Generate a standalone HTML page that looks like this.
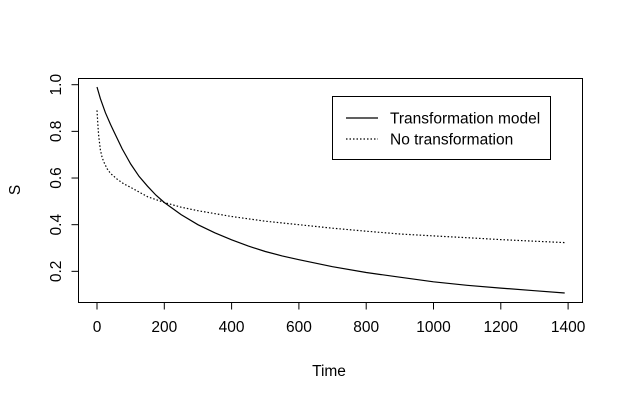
<!DOCTYPE html>
<html><head><meta charset="utf-8"><style>
body{margin:0;background:#fff}
svg text{font-family:"Liberation Sans",Arial,sans-serif;font-size:15.5px;fill:#000}
</style></head><body>
<svg id="chart" width="623" height="400"></svg>
<script>
const timesA=[0,10,25,40,50,75,100,125,150,175,200,250,300,350,400,450,500,550,600,700,800,900,1000,1100,1200,1300,1390];
const survA=[0.99,0.94,0.88,0.83,0.8,0.725,0.66,0.607,0.565,0.527,0.495,0.443,0.4,0.365,0.335,0.308,0.285,0.266,0.25,0.22,0.195,0.175,0.155,0.14,0.128,0.117,0.107];
const timesB=[0,3,5,10,15,20,30,40,60,80,100,150,200,250,300,400,500,600,700,800,900,1000,1100,1200,1300,1390];
const survB=[0.89,0.82,0.78,0.72,0.69,0.67,0.64,0.62,0.595,0.575,0.56,0.52,0.495,0.475,0.46,0.435,0.415,0.4,0.385,0.372,0.36,0.352,0.344,0.336,0.329,0.323];
const xTicks=[0,200,400,600,800,1000,1200,1400];
const yTicks=[0.2,0.4,0.6,0.8,1.0];
const NS="http://www.w3.org/2000/svg";
const svg=document.getElementById('chart');
const X=t=>97+t*(67.3/200);
const Y=v=>84.7+(1-v)*233.3;
function mk(tag,attrs,parent){const e=document.createElementNS(NS,tag);for(const k in attrs)e.setAttribute(k,attrs[k]);(parent||svg).appendChild(e);return e;}
let e=mk('rect',{x:78.5,y:78.5,width:504,height:224,fill:'none',stroke:'#000'});


e=mk('line',{x1:X(0),x2:X(1400),y1:302.5,y2:302.5,stroke:'#000'});


xTicks.forEach(t=>{
 const l=mk('line',{x1:X(t),x2:X(t),y1:302.5,y2:309.5,stroke:'#000'});
 
 
 const tx=mk('text',{x:X(t),y:332,'text-anchor':'middle'});tx.textContent=t;
 
 
});
yTicks.forEach(v=>{
 const l=mk('line',{x1:71.5,x2:78.5,y1:Y(v),y2:Y(v),stroke:'#000'});
 
 
 const tx=mk('text',{x:0,y:0,'text-anchor':'middle',transform:`translate(61,${Y(v)}) rotate(-90)`});tx.textContent=v.toFixed(1);
 
 
});
e=mk('text',{x:329,y:376,'text-anchor':'middle'});e.textContent='Time';


e=mk('text',{x:0,y:0,'text-anchor':'middle',transform:'translate(20,190) rotate(-90)'});e.textContent='S';


function path(ts,vs){return ts.map((t,i)=>(i?'L':'M')+X(t).toFixed(1)+','+Y(vs[i]).toFixed(1)).join('');}
e=mk('path',{d:path(timesA,survA),fill:'none',stroke:'#000','stroke-width':1.2});


e=mk('path',{d:path(timesB,survB),fill:'none',stroke:'#000','stroke-width':1.2,'stroke-dasharray':'1.5,2'});


const g=mk('g',{});


mk('rect',{x:332.5,y:96.5,width:218,height:63,fill:'#fff',stroke:'#000'},g);
e=mk('line',{x1:346,x2:378,y1:118,y2:118,stroke:'#000','stroke-width':1.2},g);


e=mk('line',{x1:346,x2:378,y1:139,y2:139,stroke:'#000','stroke-width':1.2,'stroke-dasharray':'1.5,2'},g);


e=mk('text',{x:390,y:123.5},g);e.textContent='Transformation model';


e=mk('text',{x:390,y:144.5},g);e.textContent='No transformation';


</script>
</body></html>
